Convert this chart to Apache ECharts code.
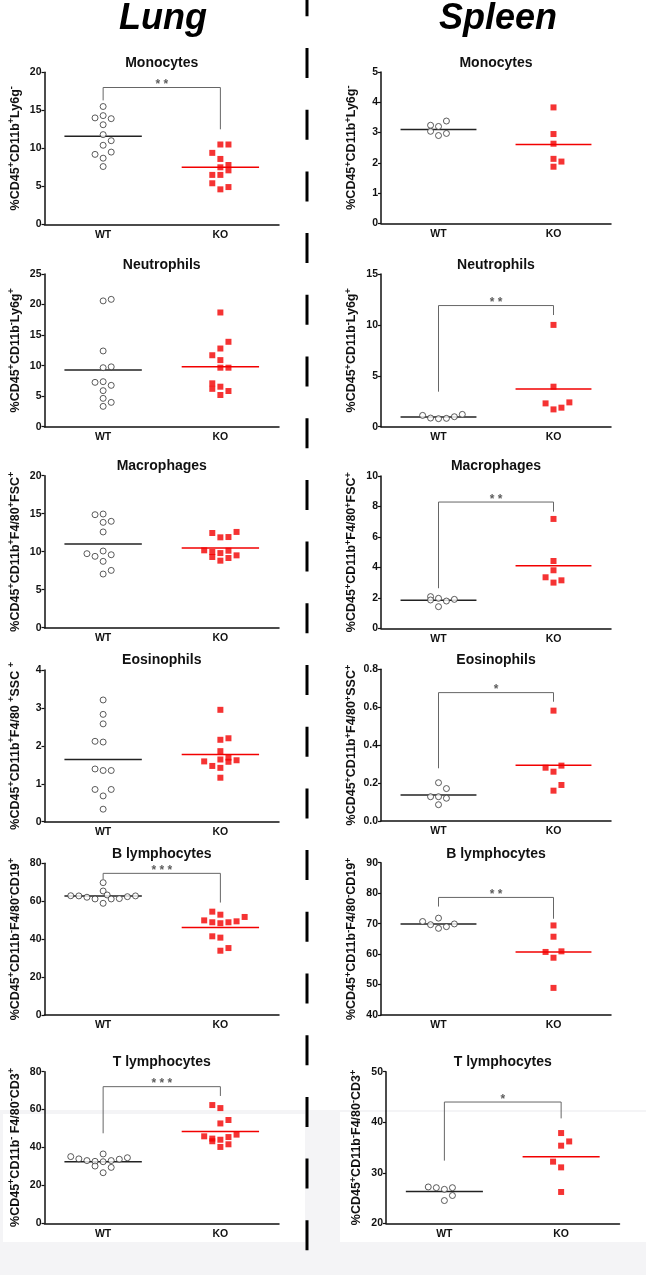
<!DOCTYPE html>
<html>
<head>
<meta charset="utf-8">
<script src="https://cdn.jsdelivr.net/npm/echarts@6.0.0/dist/echarts.min.js"></script>
<style>
  html, body { margin: 0; padding: 0; background: #fff; }
  #chart { width: 646px; height: 1275px; }
</style>
</head>
<body>
<div id="chart"></div>
<script>
// each point: [jitter column, value]
var lungMonoWT = [[0,15.5],[-1,14.0],[0,14.3],[1,13.9],[0,13.1],[0,11.8],[1,11.0],[0,10.4],[-1,9.2],[1,9.5],[0,8.7],[0,7.6]];
var lungMonoKO = [[0,10.5],[1,10.5],[-1,9.4],[0,8.6],[0,7.5],[1,7.8],[1,7.1],[-1,6.5],[0,6.5],[-1,5.4],[1,4.9],[0,4.6]];
var lungMonoMean = [11.6, 7.5];
var lungMonoSig = [16.3, 18.0, 12.5, '* *'];

var lungNeuWT = [[0,20.6],[1,20.85],[0,12.4],[0,9.66],[1,9.8],[-1,7.26],[0,7.37],[1,6.77],[0,5.9],[0,4.64],[1,3.98],[0,3.33]];
var lungNeuKO = [[0,18.7],[1,13.9],[0,12.8],[-1,11.7],[0,10.9],[0,9.66],[1,9.66],[-1,7.1],[-1,6.2],[0,6.55],[1,5.84],[0,5.19]];
var lungNeuMean = [9.3, 9.8];

var lungMacWT = [[-1,14.87],[0,14.96],[0,13.86],[1,14.0],[0,12.6],[0,10.09],[-2,9.74],[-1,9.39],[1,9.6],[0,8.73],[1,7.54],[0,7.06]];
var lungMacKO = [[-1,12.46],[0,11.89],[1,11.93],[2,12.6],[-2,10.18],[-1,9.96],[0,9.82],[1,10.13],[-1,9.3],[0,8.82],[1,9.17],[2,9.52]];
var lungMacMean = [11.0, 10.5];

var lungEosWT = [[0,3.21],[0,2.83],[0,2.58],[-1,2.12],[0,2.10],[-1,1.39],[0,1.35],[1,1.35],[-1,0.85],[1,0.85],[0,0.68],[0,0.33]];
var lungEosKO = [[0,2.95],[0,2.16],[1,2.2],[0,1.86],[-2,1.59],[0,1.64],[1,1.69],[1,1.58],[2,1.62],[-1,1.47],[0,1.42],[0,1.16]];
var lungEosMean = [1.64, 1.77];

var lungBWT = [[-4,62.9],[-3,62.8],[-2,62.1],[-1,61.2],[0,69.8],[0,65.4],[0,58.9],[0.5,63.3],[1,61.2],[2,61.4],[3,62.4],[4,62.8]];
var lungBKO = [[-1,54.5],[0,52.9],[-2,49.9],[-1,48.9],[0,48.4],[1,48.9],[2,49.4],[3,51.7],[-1,41.5],[0,40.8],[1,35.3],[0,33.9]];
var lungBMean = [62.8, 46.2];
var lungBSig = [71.7, 74.7, 59.3, '* * *'];

var lungTWT = [[-4,35.2],[-3,34.0],[-2,33.1],[-1,32.7],[0,36.6],[0,32.5],[-1,30.2],[1,33.1],[1,29.5],[0,26.7],[2,33.8],[3,34.6]];
var lungTKO = [[-1,62.4],[0,60.8],[0,52.7],[1,54.5],[-2,45.9],[-1,44.7],[-1,43.3],[0,44.1],[1,45.5],[2,46.8],[0,40.3],[1,41.7]];
var lungTMean = [32.5, 48.5];
var lungTSig = [47.5, 72.1, 67.2, '* * *'];

var spleenMonoWT = [[-1,3.24],[0,3.2],[1,3.38],[-1,3.04],[0,2.9],[1,2.97]];
var spleenMonoKO = [[0,3.83],[0,2.95],[0,2.63],[0,2.13],[1,2.04],[0,1.87]];
var spleenMonoMean = [3.1, 2.6];

var spleenNeuWT = [[-2,1.11],[-1,0.85],[0,0.79],[1,0.82],[2,0.98],[3,1.21]];
var spleenNeuKO = [[0,10.0],[0,3.93],[-1,2.29],[2,2.39],[1,1.87],[0,1.7]];
var spleenNeuMean = [0.95, 3.7];
var spleenNeuSig = [3.44, 11.9, 10.97, '* *'];

var spleenMacWT = [[-1,2.08],[-1,1.86],[0,1.97],[0,1.42],[1,1.79],[2,1.9]];
var spleenMacKO = [[0,7.18],[0,4.42],[0,3.81],[-1,3.35],[1,3.15],[0,3.0]];
var spleenMacMean = [1.84, 4.11];
var spleenMacSig = [2.63, 8.29, 7.66, '* *'];

var spleenEosWT = [[0,0.202],[1,0.171],[-1,0.128],[0,0.128],[1,0.12],[0,0.086]];
var spleenEosKO = [[0,0.582],[-1,0.281],[0,0.26],[1,0.292],[1,0.19],[0,0.16]];
var spleenEosMean = [0.137, 0.294];
var spleenEosSig = [0.278, 0.677, 0.629, '*'];

var spleenBWT = [[-2,70.7],[-1,69.65],[0,71.8],[0,68.45],[1,69.0],[2,69.9]];
var spleenBKO = [[0,69.4],[0,65.7],[-1,60.7],[1,60.9],[0,58.8],[0,48.9]];
var spleenBMean = [69.9, 60.7];
var spleenBSig = [75.6, 78.6, 71.6, '* *'];

var spleenTWT = [[-2,27.19],[-1,27.05],[0,26.72],[1,27.05],[1,25.5],[0,24.5]];
var spleenTKO = [[0,37.86],[1,36.2],[0,35.36],[-1,32.2],[0,31.07],[0,26.2]];
var spleenTMean = [26.3, 33.18];
var spleenTSig = [32.4, 44.0, 40.76, '*'];

var groups = ['WT', 'KO'];
var organs = ['Lung', 'Spleen'];
var cellTitles = ['Monocytes', 'Neutrophils', 'Macrophages', 'Eosinophils', 'B lymphocytes', 'T lymphocytes'];
var lungYNames = ['%CD45^+CD11b^+Ly6g^-', '%CD45^+CD11b^-Ly6g^+', '%CD45^+CD11b^+F4/80^+FSC^+',
  '%CD45^+CD11b^+F4/80 ^+SSC ^+', '%CD45^+CD11b^-F4/80^-CD19^+', '%CD45^+CD11b^- F4/80^-CD3^+'];
var spleenYNames = ['%CD45^+CD11b^+Ly6g^-', '%CD45^+CD11b^-Ly6g^+', '%CD45^+CD11b^+F4/80^+FSC^+',
  '%CD45^+CD11b^+F4/80^+SSC^+', '%CD45^+CD11b^-F4/80^-CD19^+', '%CD45^+CD11b^-F4/80^-CD3^+'];
var lungYMin = [0, 0, 0, 0, 0, 0];
var lungYMax = [20, 25, 20, 4, 80, 80];
var lungYStep = [5, 5, 5, 1, 20, 20];
var spleenYMin = [0, 0, 0, 0, 40, 20];
var spleenYMax = [5, 15, 10, 0.8, 90, 50];
var spleenYStep = [1, 5, 2, 0.2, 10, 10];

var lungSets = [
  [lungMonoWT, lungMonoKO, lungMonoMean, lungMonoSig],
  [lungNeuWT, lungNeuKO, lungNeuMean, null],
  [lungMacWT, lungMacKO, lungMacMean, null],
  [lungEosWT, lungEosKO, lungEosMean, null],
  [lungBWT, lungBKO, lungBMean, lungBSig],
  [lungTWT, lungTKO, lungTMean, lungTSig]
];
var spleenSets = [
  [spleenMonoWT, spleenMonoKO, spleenMonoMean, null],
  [spleenNeuWT, spleenNeuKO, spleenNeuMean, spleenNeuSig],
  [spleenMacWT, spleenMacKO, spleenMacMean, spleenMacSig],
  [spleenEosWT, spleenEosKO, spleenEosMean, spleenEosSig],
  [spleenBWT, spleenBKO, spleenBMean, spleenBSig],
  [spleenTWT, spleenTKO, spleenTMean, spleenTSig]
];

// layout (pixels)
var FONT = 'Liberation Sans, Arial, Helvetica, sans-serif';
var JIT = 0.069;      // horizontal spacing of jittered points, in x units
var HALF = 0.33;      // half width of the mean line
var colLeft = [44.5, 381];
var colWidth = [234.5, 230];
var plotTop = [[72.3, 274, 475.7, 670, 863.3, 1071.7], [72, 274, 476, 669.3, 862.7, 1071.7]];
var plotBottom = [[224.3, 426.7, 627.7, 821.7, 1015, 1223.3], [223.3, 426.7, 628.3, 821, 1015, 1223.3]];
var titleY = [63, 265, 466, 660, 854, 1062];

function supName(s) {
  return s.split(/(\^[+\-])/).filter(Boolean).map(function (t) {
    return t.charAt(0) === '^' ? '{s|' + t.charAt(1) + '}' : '{n|' + t + '}';
  }).join('');
}

var chart = echarts.init(document.getElementById('chart'));

var titles = [], grids = [], xAxes = [], yAxes = [], series = [];

organs.forEach(function (organ, col) {
  titles.push({
    text: organ, left: col === 0 ? 163 : 498, top: 1, textAlign: 'center', padding: 0,
    textStyle: { fontFamily: FONT, fontSize: 36, fontWeight: 'bold', fontStyle: 'italic', color: '#000' }
  });
  var sets = col === 0 ? lungSets : spleenSets;
  var names = col === 0 ? lungYNames : spleenYNames;
  var mins = col === 0 ? lungYMin : spleenYMin;
  var maxs = col === 0 ? lungYMax : spleenYMax;
  var steps = col === 0 ? lungYStep : spleenYStep;

  sets.forEach(function (set, row) {
    var idx = grids.length;
    var left = colLeft[col], width = colWidth[col];
    if (col === 1 && row === 5) { left = 386; width = 233.5; }
    var top = plotTop[col][row];
    var height = plotBottom[col][row] - top;
    grids.push({ left: left, top: top, width: width, height: height, containLabel: false });

    titles.push({
      text: cellTitles[row], left: left + width / 2, top: titleY[row] - 7, textAlign: 'center', padding: 0,
      textStyle: { fontFamily: FONT, fontSize: 14, fontWeight: 'bold', color: '#111' }
    });

    xAxes.push({
      gridIndex: idx, type: 'value', min: 0.5, max: 2.5, interval: 0.5,
      axisLine: { lineStyle: { color: '#111', width: 1.5 } },
      axisTick: { show: false },
      splitLine: { show: false },
      axisLabel: {
        margin: 5, fontFamily: FONT, fontSize: 10.5, fontWeight: 'bold', color: '#111',
        formatter: function (v) { return v === 1 ? groups[0] : (v === 2 ? groups[1] : ''); }
      }
    });

    var step = steps[row];
    yAxes.push({
      gridIndex: idx, type: 'value', min: mins[row], max: maxs[row], interval: step,
      name: supName(names[row]), nameLocation: 'middle', nameRotate: 90, nameGap: 21,
      nameTextStyle: {
        rich: {
          n: { fontFamily: FONT, fontSize: 12.5, fontWeight: 'bold', color: '#111', lineHeight: 16 },
          s: { fontFamily: FONT, fontSize: 9, fontWeight: 'bold', color: '#111', lineHeight: 9, verticalAlign: 'top' }
        }
      },
      axisLine: { show: true, lineStyle: { color: '#111', width: 1.5 } },
      axisTick: { show: true, length: 3, lineStyle: { color: '#111', width: 1.2 } },
      splitLine: { show: false },
      axisLabel: {
        margin: 3, fontFamily: FONT, fontSize: 10.5, fontWeight: 'bold', color: '#111',
        formatter: function (v) { return step < 1 ? v.toFixed(1) : String(v); }
      }
    });

    var wt = set[0], ko = set[1], mean = set[2], sig = set[3];

    series.push({
      type: 'line', xAxisIndex: idx, yAxisIndex: idx, symbol: 'none', silent: true, z: 2,
      data: [[1 - HALF, mean[0]], [1 + HALF, mean[0]]],
      lineStyle: { color: '#222', width: 1.5 }
    });
    series.push({
      type: 'line', xAxisIndex: idx, yAxisIndex: idx, symbol: 'none', silent: true, z: 2,
      data: [[2 - HALF, mean[1]], [2 + HALF, mean[1]]],
      lineStyle: { color: '#f20000', width: 1.5 }
    });
    series.push({
      type: 'scatter', xAxisIndex: idx, yAxisIndex: idx, symbol: 'circle', symbolSize: 6, z: 3,
      data: wt.map(function (p) { return [1 + p[0] * JIT, p[1]]; }),
      itemStyle: { color: '#fff', borderColor: '#333', borderWidth: 1 }
    });
    series.push({
      type: 'scatter', xAxisIndex: idx, yAxisIndex: idx, symbol: 'rect', symbolSize: 6, z: 3,
      data: ko.map(function (p) { return [2 + p[0] * JIT, p[1]]; }),
      itemStyle: { color: '#f20000' }
    });
    if (sig) {
      series.push({
        type: 'line', xAxisIndex: idx, yAxisIndex: idx, symbol: 'none', silent: true, z: 2,
        data: [[1, sig[0]], [1, sig[1]], [2, sig[1]], [2, sig[2]]],
        lineStyle: { color: '#666', width: 1 }
      });
      series.push({
        type: 'scatter', xAxisIndex: idx, yAxisIndex: idx, symbolSize: 1, silent: true, z: 3,
        data: [[1.5, sig[1]]],
        itemStyle: { color: 'rgba(0,0,0,0)' },
        label: {
          show: true, position: 'top', distance: -4, formatter: sig[3],
          fontFamily: FONT, fontSize: 12, fontWeight: 'bold', color: '#333'
        }
      });
    }
  });
});

var option = {
  animation: false,
  backgroundColor: '#fff',
  title: titles,
  grid: grids,
  xAxis: xAxes,
  yAxis: yAxes,
  series: series,
  graphic: [
    { type: 'rect', z: 0, silent: true, shape: { x: 0, y: 1110, width: 646, height: 165 }, style: { fill: '#f4f4f6' } },
    { type: 'rect', z: 0, silent: true, shape: { x: 3, y: 1114, width: 302, height: 128 }, style: { fill: '#fff' } },
    { type: 'rect', z: 0, silent: true, shape: { x: 340, y: 1112, width: 306, height: 130 }, style: { fill: '#fff' } },
    { type: 'line', z: 1, silent: true, shape: { x1: 307, y1: -13.7, x2: 307, y2: 1275 },
      style: { stroke: '#000', lineWidth: 3, lineDash: [30, 31.7] } }
  ]
};

chart.setOption(option);
</script>
</body>
</html>
